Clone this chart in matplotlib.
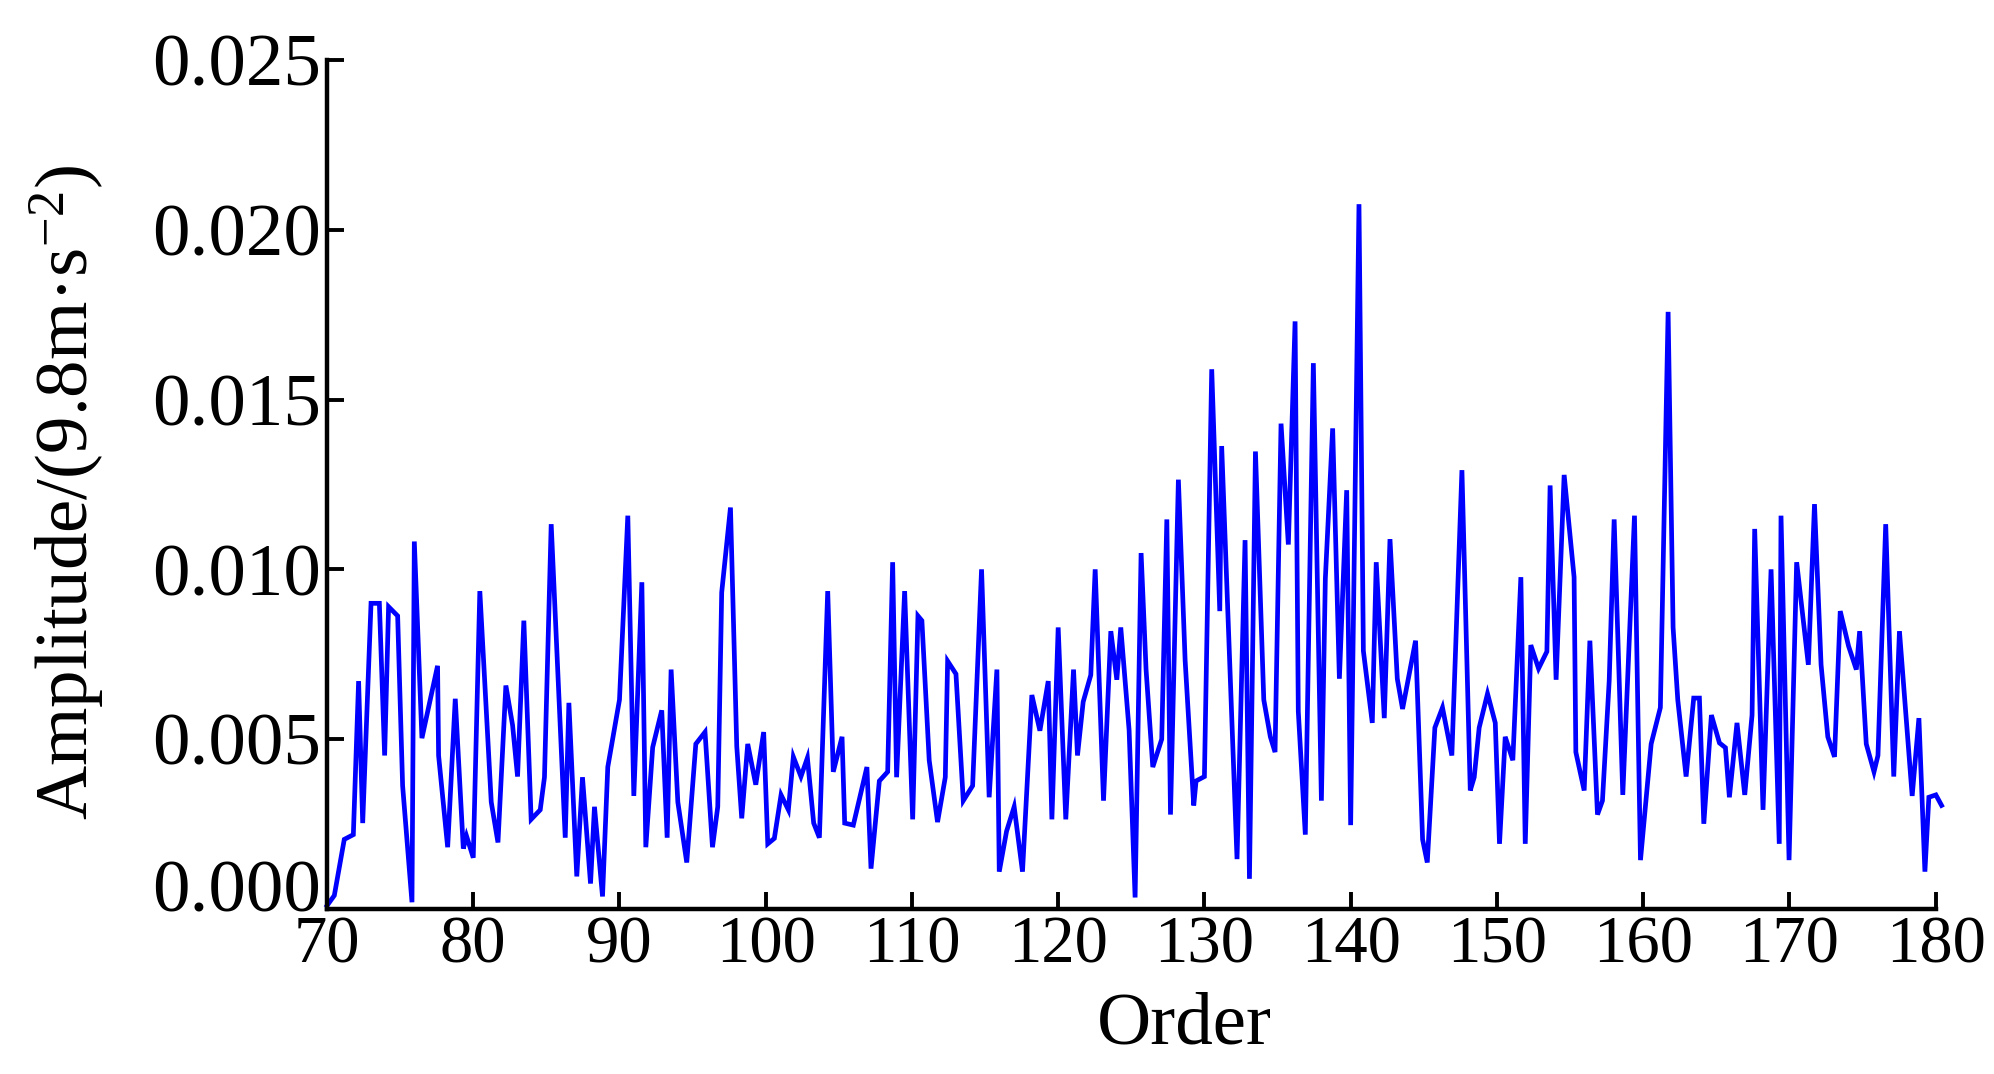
import numpy as np
import matplotlib
matplotlib.use("Agg")
import matplotlib.pyplot as plt
from matplotlib.transforms import ScaledTranslation

# ---- data (order, amplitude in 1e-3 * 9.8 m/s^2) ----
order = [70.00, 70.50, 71.18, 71.80, 72.16, 72.44, 73.01, 73.58, 73.94, 74.21, 74.83, 75.17, 75.81, 75.97,
         76.49, 77.56, 77.63, 78.25, 78.77, 79.32, 79.54, 80.00, 80.45,
         81.23, 81.69, 82.23, 82.69, 83.03, 83.46, 83.96, 84.58, 84.87, 85.33, 86.29, 86.54, 87.08, 87.47,
         88.02, 88.29, 88.84, 89.20, 90.00, 90.57, 90.98, 91.53, 91.80, 92.27,
         92.89, 93.26, 93.53, 93.99, 94.60, 95.22, 95.85, 96.36, 96.72, 96.99, 97.59, 98.02, 98.36, 98.77,
         99.32, 99.86, 100.14, 100.59, 101.05, 101.55, 101.89, 102.41, 102.85, 103.28,
         103.67, 104.24, 104.62, 105.22, 105.40, 105.99, 106.92, 107.20, 107.77, 108.34, 108.68, 108.95,
         109.50, 110.05, 110.41, 110.68, 111.18, 111.75, 112.28, 112.44, 113.01, 113.51, 114.15,
         114.76, 115.28, 115.81, 115.97, 116.47, 116.99, 117.56, 118.20, 118.75, 119.32, 119.57, 120.00,
         120.52, 121.05, 121.32, 121.71, 122.23, 122.53, 123.10, 123.60, 124.01, 124.28, 124.85, 125.26,
         125.67, 126.01, 126.47, 127.08, 127.43, 127.68, 128.22, 128.68, 129.27, 129.43, 130.00, 130.50,
         131.05, 131.18, 132.23, 132.78, 133.08, 133.49, 134.06, 134.51, 134.83, 135.24, 135.74, 136.20,
         136.42, 136.90, 137.45, 138.00, 138.27, 138.77, 139.23, 139.73, 140.00, 140.57, 140.87, 141.48,
         141.75, 142.30, 142.69, 143.19, 143.55, 144.44, 144.92, 145.24, 145.76, 146.28, 146.92,
         147.61, 148.18, 148.45, 148.79, 149.36, 149.89, 150.18, 150.57, 151.09, 151.64, 151.94, 152.32,
         152.85, 153.42, 153.64, 154.05, 154.60, 155.28, 155.40, 155.97, 156.36, 156.88, 157.22, 157.68, 158.02,
         158.61, 159.41, 159.82, 160.55, 161.18, 161.71, 162.05, 162.37, 162.94, 163.46, 163.85, 164.15,
         164.67, 165.22, 165.63, 165.90, 166.42, 166.95, 167.45, 167.63, 168.20, 168.75,
         169.31, 169.43, 169.98, 170.50, 171.30, 171.72, 172.17, 172.63, 173.09, 173.48, 174.05, 174.58,
         174.81, 175.26, 175.79, 176.06, 176.59, 177.14, 177.53, 178.40, 178.86, 179.27, 179.54, 180.02, 180.41]

amplitude_milli = [0.10, 0.40, 2.05, 2.19, 6.71, 2.53, 9.00, 9.00, 4.52, 8.90, 8.63, 3.63, 0.20, 10.82,
                   5.03, 7.16, 4.52, 1.82, 6.19, 1.78, 2.15, 1.51, 9.36,
                   3.15, 1.96, 6.58, 5.41, 3.90, 8.49, 2.64, 2.92, 3.88, 11.33, 2.10, 6.07, 0.96, 3.88,
                   0.75, 3.01, 0.37, 4.18, 6.16, 11.58, 3.33, 9.62, 1.82, 4.76,
                   5.85, 2.10, 7.05, 3.15, 1.37, 4.86, 5.21, 1.82, 3.01, 9.32, 11.82, 4.79, 2.67, 4.86,
                   3.66, 5.21, 1.92, 2.08, 3.36, 2.92, 4.48, 3.90, 4.45, 2.53,
                   2.10, 9.36, 4.04, 5.07, 2.53, 2.47, 4.18, 1.19, 3.77, 4.04, 10.21, 3.88,
                   9.36, 2.64, 8.63, 8.49, 4.38, 2.56, 3.88, 7.30, 6.92, 3.19, 3.63,
                   10.00, 3.29, 7.05, 1.10, 2.29, 3.01, 1.10, 6.30, 5.25, 6.71, 2.64, 8.29,
                   2.64, 7.05, 4.52, 6.10, 6.89, 10.00, 3.19, 8.18, 6.75, 8.29, 5.27, 0.34,
                   10.48, 7.05, 4.18, 5.00, 11.47, 2.78, 12.64, 7.33, 3.05, 3.77, 3.90, 15.89,
                   8.77, 13.63, 1.47, 10.86, 0.89, 13.47, 6.16, 5.07, 4.62, 14.29, 10.73, 17.30,
                   5.82, 2.19, 16.07, 3.19, 9.73, 14.15, 6.78, 12.33, 2.47, 20.75, 7.60, 5.48,
                   10.21, 5.62, 10.89, 6.78, 5.89, 7.90, 2.05, 1.37, 5.34, 5.93, 4.52,
                   12.92, 3.49, 3.88, 5.34, 6.34, 5.48, 1.92, 5.07, 4.38, 9.77, 1.92, 7.77,
                   7.08, 7.58, 12.47, 6.75, 12.78, 9.77, 4.62, 3.49, 7.90, 2.78, 3.19, 6.71, 11.47,
                   3.36, 11.58, 1.44, 4.86, 5.93, 17.58, 8.29, 6.16, 3.90, 6.21, 6.21, 2.51,
                   5.71, 4.89, 4.75, 3.29, 5.48, 3.36, 5.71, 11.19, 2.92, 10.00,
                   1.92, 11.58, 1.44, 10.21, 7.19, 11.92, 7.19, 5.07, 4.48, 8.77, 7.74, 7.05,
                   8.18, 4.86, 4.04, 4.52, 11.33, 3.90, 8.18, 3.33, 5.62, 1.10, 3.29, 3.36, 3.05]

x_ticks = [70, 80, 90, 100, 110, 120, 130, 140, 150, 160, 170, 180]
y_ticks = [0.000, 0.005, 0.010, 0.015, 0.020, 0.025]
x_label = "Order"
y_label = "Amplitude/(9.8m\u00b7s$^{\u22122}$)"

amplitude = np.array(amplitude_milli) * 1e-3

# ---- style ----
plt.rcParams["font.family"] = ["Liberation Serif", "DejaVu Serif"]
plt.rcParams["mathtext.fontset"] = "custom"
plt.rcParams["mathtext.rm"] = "Liberation Serif"
plt.rcParams["mathtext.it"] = "Liberation Serif:italic"
plt.rcParams["mathtext.bf"] = "Liberation Serif:bold"

fig = plt.figure(figsize=(19.94, 10.74), dpi=100)
ax = fig.add_axes([0.164, 0.1536, 0.8067, 0.7907])

ax.plot(order, amplitude, color="#0000ff", linewidth=3.4, clip_on=False,
        solid_joinstyle="miter")

ax.set_xlim(70, 180)
ax.set_ylim(0, 0.025)
ax.set_xticks(x_ticks)
ax.set_yticks(y_ticks)
ax.set_yticklabels([f"{v:.3f}" for v in y_ticks])
ax.set_xticklabels([str(v) for v in x_ticks])

for side in ("top", "right"):
    ax.spines[side].set_visible(False)
for side in ("left", "bottom"):
    ax.spines[side].set_linewidth(3.2)
    ax.spines[side].set_color("black")
    ax.spines[side].set_capstyle("projecting")

ax.tick_params(axis="both", direction="in", length=12, width=2.8, color="black")
ax.tick_params(axis="y", labelsize=54, pad=4)
ax.tick_params(axis="x", labelsize=48, pad=5)

ax.set_xlabel(x_label, fontsize=54)
ax.set_ylabel(y_label, fontsize=54)
ax.xaxis.label.set_va("center")
ax.yaxis.label.set_va("center")
ax.xaxis.set_label_coords(0.533, -0.137)
ax.yaxis.set_label_coords(-0.162, 0.49)

# lift the "0.000" label a little, as in the reference
lbl0 = ax.yaxis.get_major_ticks()[0].label1
lbl0.set_transform(lbl0.get_transform() + ScaledTranslation(0, 17 / 72, fig.dpi_scale_trans))

fig.savefig("out.png", dpi=100, facecolor="white")
